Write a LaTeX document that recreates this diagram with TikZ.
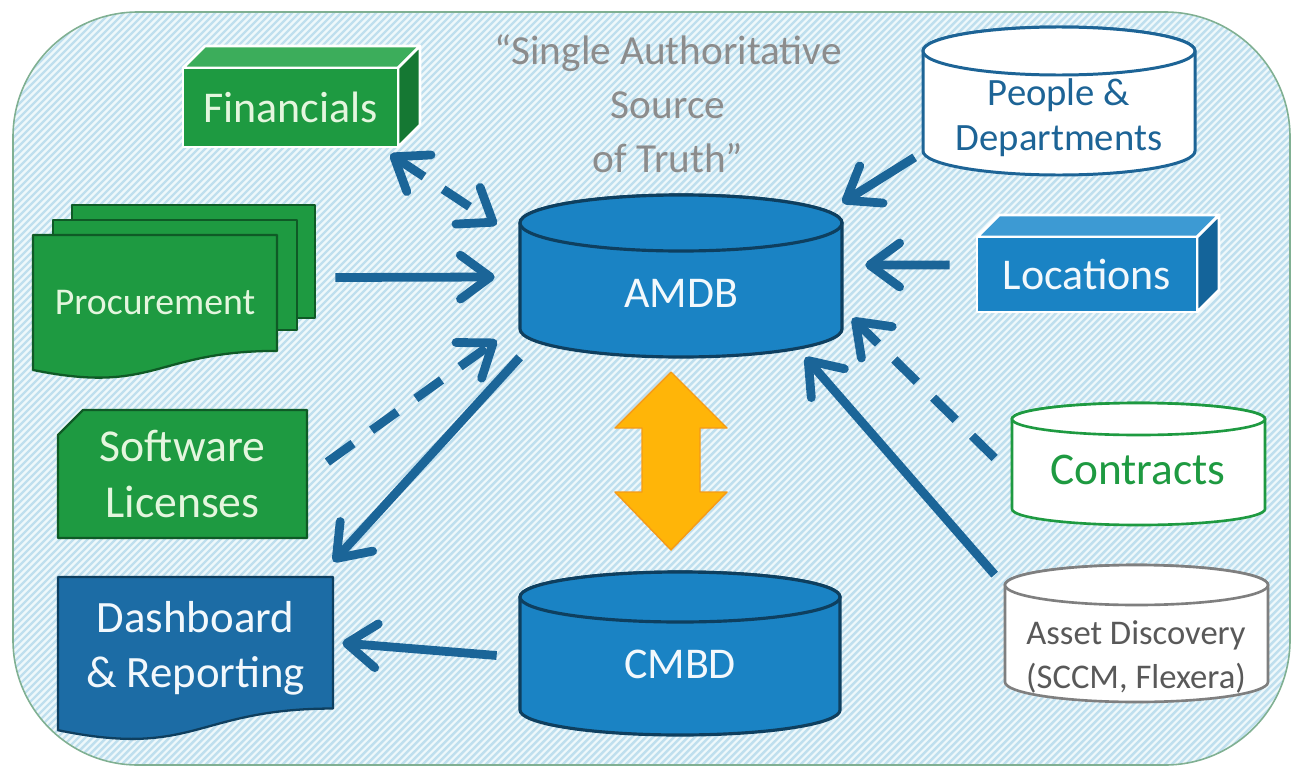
\documentclass[tikz,border=0pt]{standalone}
\usepackage{fontspec}
\setmainfont{Carlito}
\usetikzlibrary{arrows.meta,calc,fit}

\definecolor{grnfill}{HTML}{1E9A41}
\definecolor{grntop}{HTML}{3CAD5B}
\definecolor{grnside}{HTML}{157833}
\definecolor{grnedge}{HTML}{0F5A26}
\definecolor{grntext}{HTML}{E4F6DE}
\definecolor{bluefill}{HTML}{1A83C4}
\definecolor{bluetop}{HTML}{3D9AD3}
\definecolor{blueside}{HTML}{14649A}
\definecolor{blueedge}{HTML}{0E3F5F}
\definecolor{dashfill}{HTML}{1C6CA5}
\definecolor{arrowblue}{HTML}{1B6598}
\definecolor{bgfill}{HTML}{EEF8FB}
\definecolor{stripecol}{HTML}{BFDFEE}
\definecolor{framecol}{HTML}{80B092}
\definecolor{titlegray}{HTML}{8C8C8C}
\definecolor{peopleblue}{HTML}{1D6496}
\definecolor{assetgray}{HTML}{7F7F7F}
\definecolor{assettext}{HTML}{595959}
\definecolor{orangefill}{HTML}{FFB508}
\definecolor{orangeedge}{HTML}{F59A17}
\definecolor{lighttext}{HTML}{F2F8FC}

% cylinder: name, x1, y1, x2, y2, ellipse half-height, style
\newcommand\drawcylinder[7]{%
  \pgfmathsetmacro\cylcx{(#2+#4)/2}%
  \pgfmathsetmacro\cylrx{(#4-#2)/2}%
  \path[#7] ({#2},{#3+#6}) -- ({#2},{#5-#6})
     arc[start angle=180,end angle=0,x radius=\cylrx,y radius=#6]
     -- ({#4},{#3+#6})
     arc[start angle=0,end angle=-180,x radius=\cylrx,y radius=#6] -- cycle;
  \path[#7] ({\cylcx},{#3+#6}) ellipse[x radius=\cylrx,y radius=#6];
  \node[fit={(#2,#3) (#4,#5)},inner sep=0pt] (#1) {};
}
% document sheet with wavy bottom: x1, y1, x2, y2 (full height), style
\newcommand\drawdocument[5]{%
  \pgfmathsetmacro\docw{#3-#1}%
  \pgfmathsetmacro\doch{#4-#2}%
  \path[#5] ({#1},{#2}) -- ({#3},{#2}) -- ({#3},{#2+0.802*\doch})
    .. controls ({#1+0.5*\docw},{#2+0.802*\doch}) and ({#1+0.5*\docw},{#2+1.107*\doch})
    .. ({#1},{#2+0.934*\doch}) -- cycle;
}
% cube: front face x1, y1, x2, y2, depth, front/top/side colours
\newcommand\drawcube[8]{%
  \path[cubeline,fill=#7] ({#1},{#2}) -- ({#1+#5},{#2-#5}) -- ({#3+#5},{#2-#5}) -- ({#3},{#2}) -- cycle;
  \path[cubeline,fill=#8] ({#3},{#2}) -- ({#3+#5},{#2-#5}) -- ({#3+#5},{#4-#5}) -- ({#3},{#4}) -- cycle;
  \path[cubeline,fill=#6] ({#1},{#2}) rectangle ({#3},{#4});
}

\begin{document}
\begin{tikzpicture}[x=0.02cm,y=-0.02cm,
  cubeline/.style={draw=white,line width=1.6pt,line join=round},
  sheet/.style={fill=grnfill,draw=grnedge,line width=1.3pt,line join=round},
  dashsheet/.style={fill=dashfill,draw=blueedge,line width=1.3pt,line join=round},
  dbcyl/.style={fill=bluefill,draw=blueedge,line width=1.8pt},
  peoplecyl/.style={fill=white,draw=peopleblue,line width=1.7pt},
  contrcyl/.style={fill=white,draw=grnfill,line width=1.5pt},
  assetcyl/.style={fill=white,draw=assetgray,line width=1.5pt},
  >={Straight Barb[length=17pt,width=25pt,round]},
  conn/.style={draw=arrowblue,line width=5pt,->},
  dconn/.style={conn,dash pattern=on 18pt off 13pt},
  bigtext/.style={font=\fontsize{25}{31}\selectfont,align=center}]

\useasboundingbox (0,0) rectangle (1298,774);

% striped rounded panel
\begin{scope}
  \clip[rounded corners=2.5cm] (13,12) rectangle (1290,765);
  \fill[bgfill] (0,0) rectangle (1298,774);
  \foreach \s in {-790,-783,...,1300}
    \draw[stripecol,line width=1.4pt] (\s,780) -- ({\s+780},0);
\end{scope}
\draw[framecol,line width=0.9pt,rounded corners=2.5cm] (13,12) rectangle (1290,765);

% heading
\node[font=\fontsize{23.5}{30.7}\selectfont,text=titlegray,align=center] (title) at (668,104)
  {“Single Authoritative\\Source\\of Truth”};

% Financials
\drawcube{183}{68}{398}{147}{22}{grnfill}{grntop}{grnside}
\node[fit={(183,68) (398,147)},inner sep=0pt] (fin) {};
\node[bigtext,text=grntext] at (fin) {Financials};

% Procurement (stack of sheets)
\path[sheet] (72,205) rectangle (315,318);
\path[sheet] (53,220) rectangle (297,330);
\drawdocument{33}{235}{277}{379.5}{sheet}
\node[fit={(33,235) (277,370)},inner sep=0pt] (proc) {};
\node[font=\fontsize{21.5}{26}\selectfont,text=grntext] at (proc) {Procurement};

% Software Licenses
\path[sheet] (58,435) -- (83,410) -- (307,410) -- (307,538) -- (58,538) -- cycle;
\node[fit={(58,410) (307,538)},inner sep=0pt] (soft) {};
\node[font=\fontsize{26}{32}\selectfont,align=center,text=grntext] at (soft) {Software\\Licenses};

% Dashboard & Reporting
\drawdocument{58}{577}{333}{741}{dashsheet}
\node[fit={(58,577) (333,720)},inner sep=0pt] (dash) {};
\node[font=\fontsize{25.5}{31}\selectfont,align=center,text=lighttext] at (dash) {Dashboard\\\& Reporting};

% AMDB and CMBD
\drawcylinder{amdb}{520}{195}{842}{357}{28}{dbcyl}
\node[bigtext,text=lighttext] at (681,293) {AMDB};
\drawcylinder{cmbd}{520}{572}{840}{735}{25}{dbcyl}
\node[bigtext,text=lighttext] at (680,664) {CMBD};

% synchronisation arrow
\path[fill=orangefill,draw=orangeedge,line width=0.8pt,line join=round]
  (671,372) -- (727,428) -- (700,428) -- (700,492) -- (727,492) -- (671,550)
  -- (615,492) -- (642,492) -- (642,428) -- (615,428) -- cycle;
\node[fit={(615,372) (727,550)},inner sep=0pt] (sync) {};

% People & Departments
\drawcylinder{people}{923}{27}{1195}{175}{24}{peoplecyl}
\node[font=\fontsize{22}{25.6}\selectfont,align=center,text=peopleblue] at (1059,118) {People \&\\Departments};

% Locations
\drawcube{977}{237}{1197}{312}{22}{bluefill}{bluetop}{blueside}
\node[fit={(977,237) (1197,312)},inner sep=0pt] (loc) {};
\node[bigtext,text=lighttext] at (loc) {Locations};

% Contracts
\drawcylinder{contr}{1012}{403}{1265}{525}{16}{contrcyl}
\node[font=\fontsize{25.8}{31}\selectfont,text=grnfill] at (1138,470) {Contracts};

% Asset Discovery
\drawcylinder{asset}{1005}{565}{1268}{702}{20}{assetcyl}
\node[font=\fontsize{19.7}{24.5}\selectfont,align=center,text=assettext] at (1136,657) {Asset Discovery\\(SCCM, Flexera)};

% data flows
\draw[dconn,<->] ($(fin.south east)+(-8,7)$) -- ($(amdb.north west)+(-23,30)$);
\draw[conn] ($(proc.east)+(58,-25)$) -- ($(amdb.west)+(-25,1)$);
\draw[dconn] ($(soft.east)+(20,-12)$) -- ($(amdb.south west)+(-23,-17)$);
\draw[conn] (amdb.south west) -- ($(dash.north east)+(0,-15)$);
\draw[conn] ($(cmbd.west)+(-23,2)$) -- ($(dash.east)+(9,-5.5)$);
\draw[conn] ($(people.south west)+(-8,-18)$) -- ($(amdb.north east)+(0,8)$);
\draw[conn] ($(loc.west)+(-27,-9.5)$) -- ($(amdb.east)+(23,-11)$);
\draw[dconn] ($(contr.west)+(-17,-6)$) -- ($(amdb.south east)+(10,-39)$);
\draw[conn] ($(asset.north west)+(-10,10)$) -- ($(amdb.south east)+(-37,0)$);

\end{tikzpicture}
\end{document}
